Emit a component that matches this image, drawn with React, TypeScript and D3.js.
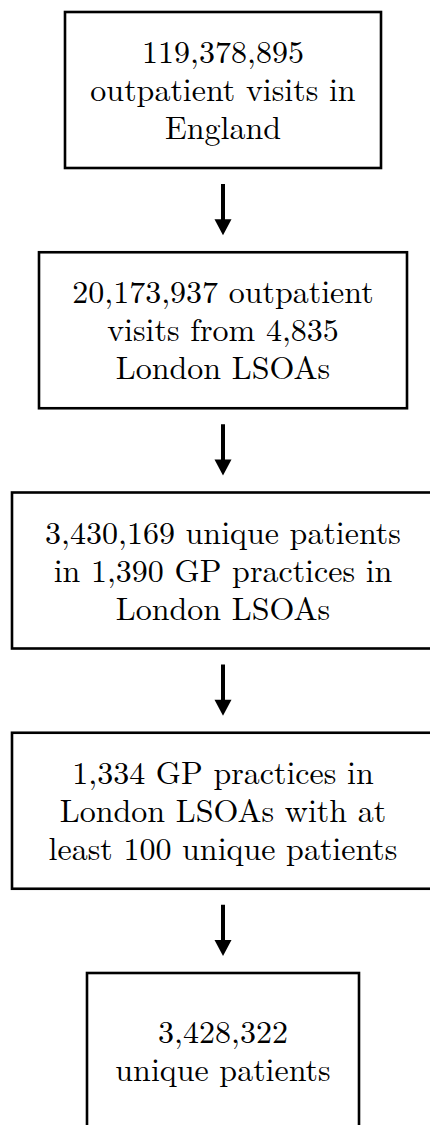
import React from "react";
import * as d3 from "d3";

const stepLines: string[][] = [
  ["119,378,895", "outpatient visits in", "England"],
  ["20,173,937 outpatient", "visits from 4,835", "London LSOAs"],
  ["3,430,169 unique patients", "in 1,390 GP practices in", "London LSOAs"],
  ["1,334 GP practices in", "London LSOAs with at", "least 100 unique patients"],
  ["3,428,322", "unique patients"],
];
const boxWidths: number[] = [316, 368, 422, 422, 272];

const W = 430;
const H = 1125;
const CX = 223;
const BOX_H = 156;
const LINE_H = 38;

export default function App() {
  const y = d3.scaleLinear().domain([0, stepLines.length - 1]).range([12, 973]);
  const arrowPath = (bottom: number) => {
    const headH = 16;
    const headW = 8.5;
    return `M${CX},${bottom} L${CX - headW},${bottom - headH} L${CX + headW},${bottom - headH} Z`;
  };
  return (
    <div>
      <svg
        width={W}
        height={H}
        viewBox={`0 0 ${W} ${H}`}
        style={{ position: "absolute", left: 0, top: 0, background: "#fff" }}
      >
        {stepLines.map((lines, i) => {
          const top = y(i);
          const w = boxWidths[i];
          const mid = top + BOX_H / 2;
          const n = lines.length;
          return (
            <g key={i}>
              <rect
                x={CX - w / 2}
                y={top}
                width={w}
                height={BOX_H}
                fill="none"
                stroke="#000"
                strokeWidth={2.6}
              />
              {lines.map((t, j) => (
                <text
                  key={j}
                  x={CX}
                  y={mid + (j - (n - 1) / 2) * LINE_H + 11}
                  textAnchor="middle"
                  style={{ fontFamily: '"Latin Modern Roman", serif', fontSize: "32px" }}
                  fill="#000"
                >
                  {t}
                </text>
              ))}
              {i < stepLines.length - 1 && (
                <g>
                  <line
                    x1={CX}
                    x2={CX}
                    y1={top + BOX_H + 16}
                    y2={y(i + 1) - 30}
                    stroke="#000"
                    strokeWidth={4}
                  />
                  <path d={arrowPath(y(i + 1) - 17)} fill="#000" />
                </g>
              )}
            </g>
          );
        })}
      </svg>
    </div>
  );
}
